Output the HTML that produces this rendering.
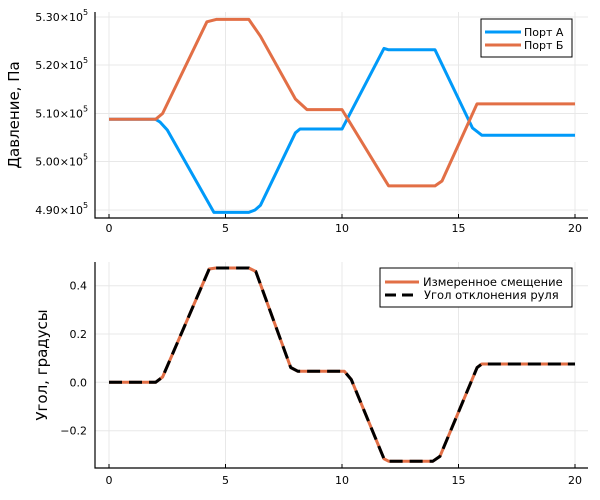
<!DOCTYPE html>
<html><head><meta charset="utf-8"><style>body{margin:0;background:#fff}svg{display:block}text{font-family:"DejaVu Sans","Liberation Sans",sans-serif;fill:#000}</style></head><body>
<svg width="600" height="500" viewBox="0 0 600 500">
<g stroke="#e8e8e8" stroke-width="1">
<line x1="109" y1="12" x2="109" y2="218"/><line x1="225.5" y1="12" x2="225.5" y2="218"/><line x1="342" y1="12" x2="342" y2="218"/><line x1="458.5" y1="12" x2="458.5" y2="218"/><line x1="575" y1="12" x2="575" y2="218"/>
<line x1="95" y1="17" x2="588" y2="17"/><line x1="95" y1="65" x2="588" y2="65"/><line x1="95" y1="113.5" x2="588" y2="113.5"/><line x1="95" y1="161.5" x2="588" y2="161.5"/><line x1="95" y1="210" x2="588" y2="210"/>
<line x1="109" y1="262" x2="109" y2="468"/><line x1="225.5" y1="262" x2="225.5" y2="468"/><line x1="342" y1="262" x2="342" y2="468"/><line x1="458.5" y1="262" x2="458.5" y2="468"/><line x1="575" y1="262" x2="575" y2="468"/>
<line x1="95" y1="285.7" x2="588" y2="285.7"/><line x1="95" y1="334" x2="588" y2="334"/><line x1="95" y1="382.3" x2="588" y2="382.3"/><line x1="95" y1="430.7" x2="588" y2="430.7"/>
</g>
<g stroke="#000" stroke-width="1.2" fill="none">
<polyline points="95,12 95,218 588,218"/>
<polyline points="95,262 95,468 588,468"/>
</g>
<g stroke="#000" stroke-width="1">
<line x1="109" y1="218" x2="109" y2="214"/><line x1="225.5" y1="218" x2="225.5" y2="214"/><line x1="342" y1="218" x2="342" y2="214"/><line x1="458.5" y1="218" x2="458.5" y2="214"/><line x1="575" y1="218" x2="575" y2="214"/>
<line x1="109" y1="468" x2="109" y2="464"/><line x1="225.5" y1="468" x2="225.5" y2="464"/><line x1="342" y1="468" x2="342" y2="464"/><line x1="458.5" y1="468" x2="458.5" y2="464"/><line x1="575" y1="468" x2="575" y2="464"/>
</g>
<g font-size="11" text-anchor="middle">
<text x="109" y="232">0</text><text x="225.5" y="232">5</text><text x="342" y="232">10</text><text x="458.5" y="232">15</text><text x="575" y="232">20</text>
<text x="109" y="484">0</text><text x="225.5" y="484">5</text><text x="342" y="484">10</text><text x="458.5" y="484">15</text><text x="575" y="484">20</text>
</g>
<g font-size="11" text-anchor="end">
<text x="83" y="21">5.30×10</text><text x="83" y="69">5.20×10</text><text x="83" y="117.5">5.10×10</text><text x="83" y="165.5">5.00×10</text><text x="83" y="214">4.90×10</text>
</g>
<g font-size="8">
<text x="83" y="15">5</text><text x="83" y="63">5</text><text x="83" y="111.5">5</text><text x="83" y="159.5">5</text><text x="83" y="208">5</text>
</g>
<g font-size="11" text-anchor="end">
<text x="87" y="289.7">0.4</text><text x="87" y="338">0.2</text><text x="87" y="386.3">0.0</text><text x="87" y="434.7">−0.2</text>
</g>
<text transform="translate(19,115) rotate(-90)" font-size="15" text-anchor="middle">Давление, Па</text>
<text transform="translate(47,365) rotate(-90)" font-size="15" text-anchor="middle">Угол, градусы</text>
<g fill="none" stroke-width="3" stroke-linejoin="round">
<polyline stroke="#009af9" points="109,119.3 155.6,119.3 160,122 167.3,130 213.9,212.4 248.8,212.4 255,210 260.5,205.2 295.4,132.8 300,129 307,129 342,129 384,48.4 388.6,49.8 435,49.8 472.5,128 481.8,135.2 575,135.2"/>
<polyline stroke="#e26f46" points="109,119.3 155.6,119.3 162.6,113.5 206.9,21.8 216.2,19.4 248.8,19.4 260.5,36.3 295.4,99 307,109.6 342,109.6 388.6,185.9 435,185.9 442,181 477,103.9 481.8,103.9 575,103.9"/>
</g>
<g fill="none" stroke-width="3" stroke-linejoin="round">
<polyline stroke="#e26f46" points="109,382.3 155.6,382.3 162.6,377 209.2,269 216,268 248.8,268 255.8,271.5 290.7,367.5 297.7,371.2 344.3,371.2 351.3,379.6 384,458.8 388.6,461.2 432.9,461.2 439.9,456.4 477.1,367.6 481.8,364 575,364"/>
<polyline stroke="#000" stroke-dasharray="13,7" points="109,382.3 155.6,382.3 162.6,377 209.2,269 216,268 248.8,268 255.8,271.5 290.7,367.5 297.7,371.2 344.3,371.2 351.3,379.6 384,458.8 388.6,461.2 432.9,461.2 439.9,456.4 477.1,367.6 481.8,364 575,364"/>
</g>
<rect x="481" y="19" width="91" height="38" fill="#fff" stroke="#000" stroke-width="1"/>
<line x1="485" y1="32" x2="521" y2="32" stroke="#009af9" stroke-width="3"/>
<line x1="485" y1="45" x2="521" y2="45" stroke="#e26f46" stroke-width="3"/>
<text x="524" y="36" font-size="11">Порт А</text>
<text x="524" y="49" font-size="11">Порт Б</text>
<rect x="380" y="268" width="192" height="39" fill="#fff" stroke="#000" stroke-width="1"/>
<line x1="385" y1="282" x2="419" y2="282" stroke="#e26f46" stroke-width="3"/>
<line x1="385" y1="295" x2="419" y2="295" stroke="#000" stroke-width="3" stroke-dasharray="11,6"/>
<text x="423" y="286" font-size="11.5">Измеренное смещение</text>
<text x="424" y="299" font-size="11.5">Угол отклонения руля</text>
</svg>
</body></html>
